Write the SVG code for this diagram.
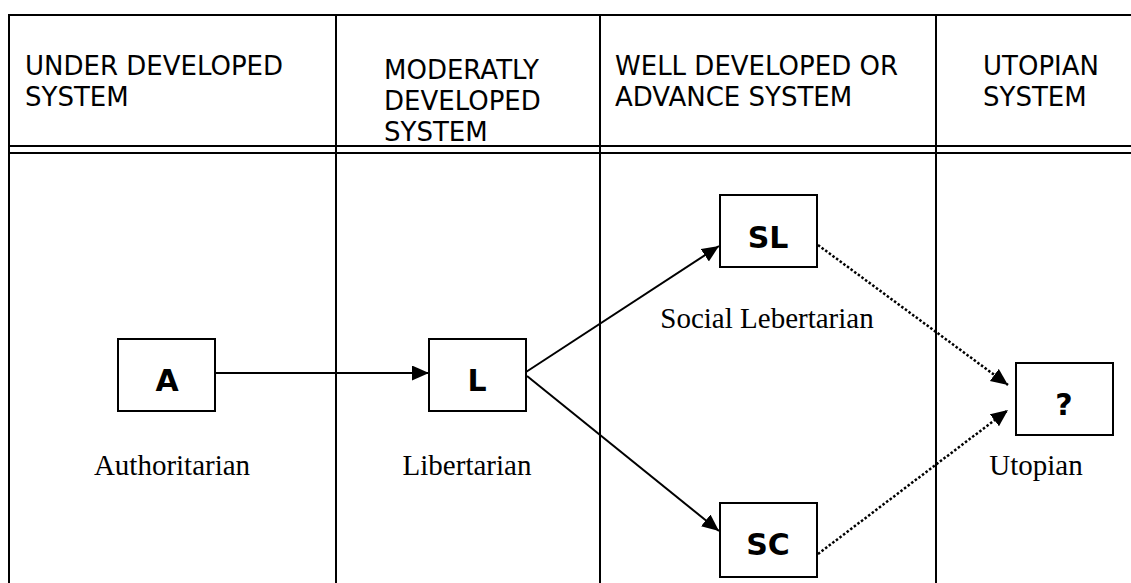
<svg xmlns="http://www.w3.org/2000/svg" width="1131" height="583" viewBox="0 0 1131 583">
<style>
.grid{stroke:#000;stroke-width:2;fill:none}
.hdr{font-family:"DejaVu Sans","Liberation Sans",sans-serif;font-size:26px;fill:#000}
.lbl{font-family:"Liberation Serif","Times New Roman",serif;font-size:29px;fill:#000;text-anchor:middle}
.box{fill:#fff;stroke:#000;stroke-width:2}
.sym{font-family:"Comic Sans MS","DejaVu Sans",sans-serif;font-weight:bold;font-size:30px;fill:#000;text-anchor:middle}
.solid{stroke:#000;stroke-width:2;fill:none}
.dot{stroke:#000;stroke-width:2.5;fill:none;stroke-dasharray:2.5 2}
</style>
<defs>
<marker id="ah" markerUnits="userSpaceOnUse" markerWidth="20" markerHeight="16" refX="17" refY="7.5" orient="auto">
<path d="M0,0 L17,7.5 L0,15 z" fill="#000"/>
</marker>
</defs>
<rect width="1131" height="583" fill="#fff"/>
<g id="table">
<line class="grid" x1="8" y1="15" x2="1131" y2="15"/>
<line class="grid" x1="8" y1="146" x2="1131" y2="146"/>
<line class="grid" x1="8" y1="153" x2="1131" y2="153"/>
<line class="grid" x1="9" y1="14" x2="9" y2="583"/>
<line class="grid" x1="336" y1="14" x2="336" y2="583"/>
<line class="grid" x1="600" y1="14" x2="600" y2="583"/>
<line class="grid" x1="936" y1="14" x2="936" y2="583"/>
</g>
<g id="headers">
<text class="hdr" x="25" y="75">UNDER DEVELOPED</text>
<text class="hdr" x="25" y="106">SYSTEM</text>
<text class="hdr" x="384" y="79">MODERATLY</text>
<text class="hdr" x="384" y="110">DEVELOPED</text>
<text class="hdr" x="384" y="141">SYSTEM</text>
<text class="hdr" x="615" y="75">WELL DEVELOPED OR</text>
<text class="hdr" x="615" y="106">ADVANCE SYSTEM</text>
<text class="hdr" x="983" y="75">UTOPIAN</text>
<text class="hdr" x="983" y="106">SYSTEM</text>
</g>
<g id="connectors">
<line class="solid" x1="215" y1="373" x2="429" y2="373" marker-end="url(#ah)"/>
<line class="solid" x1="526" y1="372" x2="719" y2="246" marker-end="url(#ah)"/>
<line class="solid" x1="527" y1="376" x2="719" y2="531" marker-end="url(#ah)"/>
<line class="dot" x1="818" y1="245" x2="1008" y2="385" marker-end="url(#ah)"/>
<line class="dot" x1="818" y1="554" x2="1008" y2="410" marker-end="url(#ah)"/>
</g>
<g id="node-A">
<rect class="box" x="118" y="339" width="97" height="72"/>
<text class="sym" x="167" y="391">A</text>
<text class="lbl" x="172" y="475">Authoritarian</text>
</g>
<g id="node-L">
<rect class="box" x="429" y="339" width="97" height="72"/>
<text class="sym" x="477" y="391">L</text>
<text class="lbl" x="467" y="475">Libertarian</text>
</g>
<g id="node-SL">
<rect class="box" x="720" y="195" width="97" height="72"/>
<text class="sym" x="768" y="248">SL</text>
<text class="lbl" x="767" y="328">Social Lebertarian</text>
</g>
<g id="node-SC">
<rect class="box" x="720" y="503" width="97" height="74"/>
<text class="sym" x="768" y="555">SC</text>
</g>
<g id="node-U">
<rect class="box" x="1016" y="363" width="97" height="72"/>
<text class="sym" x="1064" y="415">?</text>
<text class="lbl" x="1036" y="475">Utopian</text>
</g>
</svg>
